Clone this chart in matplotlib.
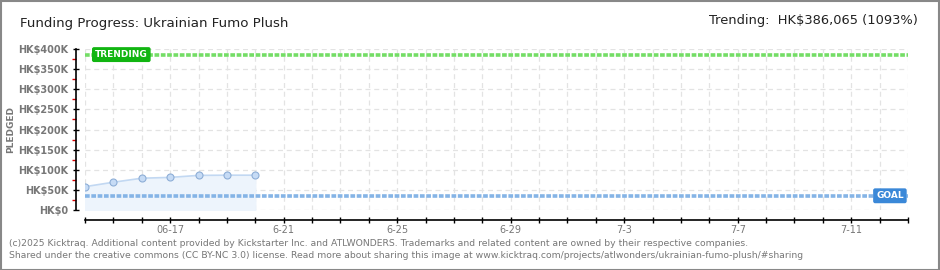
import matplotlib
matplotlib.use("Agg")
from matplotlib import pyplot as plt
import matplotlib.dates as mdates
from matplotlib.patches import Rectangle
from matplotlib.ticker import MultipleLocator, FuncFormatter
import numpy as np
import datetime as dt

# data
dates = [dt.date(2025, 6, d) for d in range(14, 21)]
pledged = [58000, 69000, 79000, 81000, 86000, 86500, 86500]
goal = 35320
trending = 386065
trend_pct = 1093
x_start = dt.date(2025, 6, 14)
x_end = dt.date(2025, 7, 13)
tick_labels = {dt.date(2025, 6, 17): '06-17', dt.date(2025, 6, 21): '6-21',
               dt.date(2025, 6, 25): '6-25', dt.date(2025, 6, 29): '6-29',
               dt.date(2025, 7, 3): '7-3', dt.date(2025, 7, 7): '7-7',
               dt.date(2025, 7, 11): '7-11'}

W, H = 940, 270
fig = plt.figure(figsize=(W / 100, H / 100), dpi=100)
ax = fig.add_axes([85 / W, 1 - 210 / H, (908 - 85) / W, (210 - 49) / H])

grey = '#777777'
px = 0.72  # points per pixel

dn = mdates.date2num(dates)
ax.fill_between(dn, 0, pledged, color='#edf4fc', zorder=1)
ax.plot(dn, pledged, color='#c2d8f2', lw=1.2, zorder=3)
ax.plot(dn, pledged, 'o', ms=7 * px, mfc='#c6dbf5', mec='#8eaed6', mew=0.8, zorder=4)

ax.axhline(goal, color='#85b4e6', lw=2.6, dashes=(1.3, 0.45), zorder=2)
ax.axhline(trending, color='#74dd66', lw=2.6, dashes=(1.3, 0.45), zorder=2)

ax.set_xlim(mdates.date2num(x_start), mdates.date2num(x_end))
ax.set_ylim(0, 400000)

# grid
ax.xaxis.set_major_locator(mdates.DayLocator())
ax.yaxis.set_major_locator(MultipleLocator(50000))
ax.yaxis.set_minor_locator(MultipleLocator(25000))
ax.grid(True, which='major', color='#e3e3e3', lw=0.9, dashes=(4, 3))
ax.set_axisbelow(True)

def xfmt(v, pos):
    d = mdates.num2date(v).date()
    return tick_labels.get(d, '')

ax.xaxis.set_major_formatter(FuncFormatter(xfmt))
ax.yaxis.set_major_formatter(FuncFormatter(lambda v, p: 'HK$%dK' % (v / 1000) if v else 'HK$0'))

for s in ['top', 'right']:
    ax.spines[s].set_visible(False)
ax.spines['left'].set_position(('outward', 9 * px))
ax.spines['bottom'].set_position(('outward', 10 * px))
ax.spines['left'].set_linewidth(1.2)
ax.spines['bottom'].set_linewidth(1.2)

ax.tick_params(axis='y', which='major', direction='inout', length=5, width=1, color='black',
               labelsize=7, labelcolor=grey, pad=3)
ax.tick_params(axis='y', which='minor', direction='out', length=3, width=1, color='#dd0000')
ax.tick_params(axis='x', which='major', direction='inout', length=5, width=1, color='black',
               labelsize=7, labelcolor=grey, pad=1)
for lab in ax.get_yticklabels():
    lab.set_fontweight('bold')

fig.text(11 / W, 1 - 130 / H, 'PLEDGED', rotation=90, va='center', ha='center',
         fontsize=6.5, color=grey, fontweight='bold')

# labels
ax.text(mdates.date2num(x_start) + 0.35, trending, 'TRENDING', fontsize=6.5, color='white',
        fontweight='bold', va='center', ha='left', zorder=5,
        bbox=dict(boxstyle='round,pad=0.25,rounding_size=0.15', fc='#11b511', ec='#11b511'))
ax.text(mdates.date2num(x_end) - 0.15, goal, 'GOAL', fontsize=6.5, color='white',
        fontweight='bold', va='center', ha='right', zorder=5,
        bbox=dict(boxstyle='round,pad=0.25,rounding_size=0.15', fc='#3a88d8', ec='#3a88d8'))

fig.text(20 / W, 1 - 24 / H, 'Funding Progress: Ukrainian Fumo Plush', fontsize=9.6,
         color='#222222', va='center', ha='left')
fig.text(918 / W, 1 - 21 / H, 'Trending:  HK$%s (%d%%)' % (format(trending, ','), trend_pct),
         fontsize=9.4, color='#222222', va='center', ha='right')

fig.text(9 / W, 1 - 243 / H, '(c)2025 Kicktraq. Additional content provided by Kickstarter Inc. and '
         'ATLWONDERS. Trademarks and related content are owned by their respective companies.',
         fontsize=6.65, color=grey, va='center', ha='left')
fig.text(9 / W, 1 - 256 / H, 'Shared under the creative commons (CC BY-NC 3.0) license. Read more '
         'about sharing this image at www.kicktraq.com/projects/atlwonders/ukrainian-fumo-plush/#sharing',
         fontsize=6.65, color=grey, va='center', ha='left')

fig.patches.append(Rectangle((0.5 / W, 0.5 / H), 1 - 1.5 / W, 1 - 1.5 / H, transform=fig.transFigure,
                             fill=False, ec='#888888', lw=1.5))

fig.savefig('out.png', dpi=100)
